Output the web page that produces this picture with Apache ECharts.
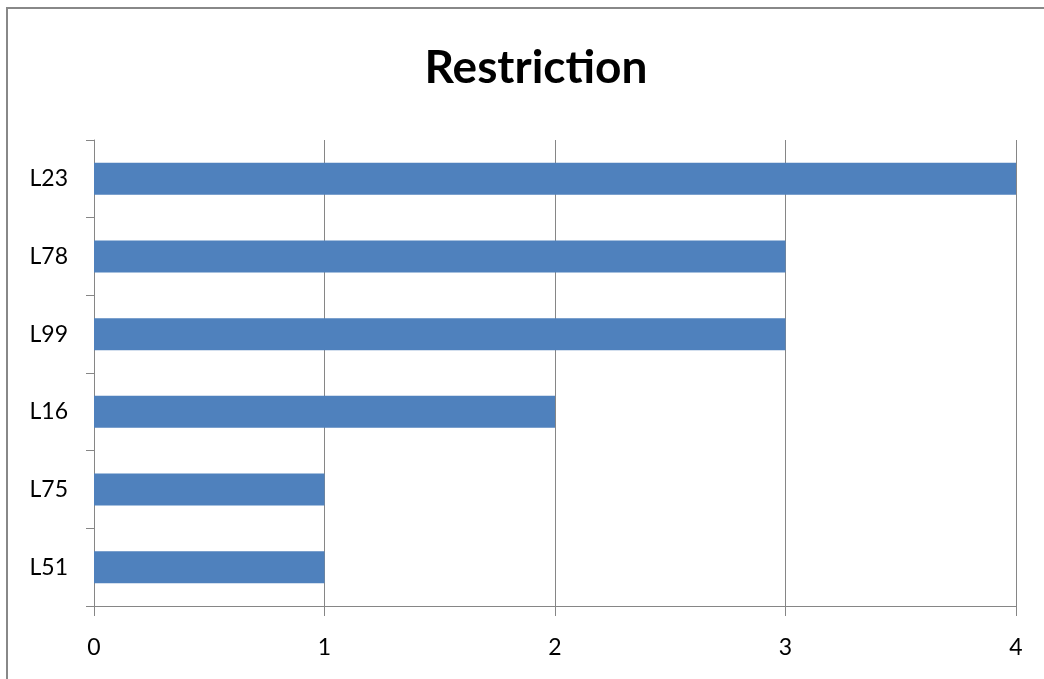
<!DOCTYPE html>
<html>
<head>
<meta charset="utf-8">
<script src="https://cdn.jsdelivr.net/npm/echarts@6/dist/echarts.min.js"></script>
<style>
  html, body { margin: 0; padding: 0; background: #fff; }
  #chart { width: 1044px; height: 679px; }
</style>
</head>
<body>
<div id="chart"></div>
<script>
// Categories listed bottom to top, as the category axis draws them
const categories = ['L51', 'L75', 'L16', 'L99', 'L78', 'L23'];
const values = [1, 1, 2, 3, 3, 4];
const xTicks = { min: 0, max: 4, interval: 1 };

const chart = echarts.init(document.getElementById('chart'), null, { renderer: 'canvas' });
const font = 'Lato, "Open Sans", sans-serif';
const lineColor = '#868686';

chart.setOption({
  backgroundColor: '#ffffff',
  animation: false,
  title: {
    text: 'Restriction',
    left: 531,
    textAlign: 'center',
    top: 40,
    textStyle: { fontFamily: font, fontWeight: 'bold', fontSize: 46, color: '#000' }
  },
  graphic: [{
    type: 'rect',
    shape: { x: 7, y: 8, width: 1100, height: 700 },
    style: { fill: 'none', stroke: '#888888', lineWidth: 2 },
    silent: true
  }],
  grid: { left: 94, right: 28, top: 140, bottom: 73 },
  xAxis: {
    type: 'value',
    min: xTicks.min,
    max: xTicks.max,
    interval: xTicks.interval,
    axisLine: { show: true, lineStyle: { color: lineColor, width: 1 } },
    axisTick: { show: true, length: 10, lineStyle: { color: lineColor } },
    splitLine: { show: true, lineStyle: { color: lineColor, width: 1 } },
    axisLabel: { margin: 30, fontFamily: font, fontSize: 23, color: '#000' }
  },
  yAxis: {
    type: 'category',
    data: categories,
    axisLine: { show: true, lineStyle: { color: lineColor, width: 1 } },
    axisTick: { show: true, length: 8, lineStyle: { color: lineColor } },
    axisLabel: { margin: 26, fontFamily: font, fontSize: 23, color: '#000' }
  },
  series: [{
    type: 'bar',
    data: values,
    barWidth: 32,
    itemStyle: { color: '#4F81BD' }
  }]
});
</script>
</body>
</html>
